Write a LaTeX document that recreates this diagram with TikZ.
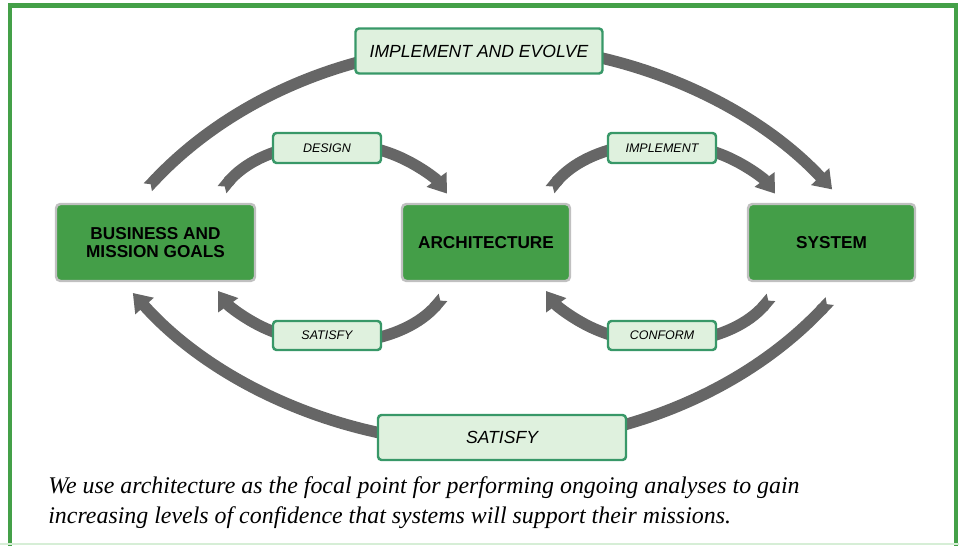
\documentclass[tikz,border=0pt]{standalone}
\usepackage{fontspec}
\setmainfont{Liberation Serif}
\setsansfont{Liberation Sans}
\usetikzlibrary{arrows.meta}

\definecolor{framegreen}{RGB}{68,160,72}
\definecolor{goalgreen}{RGB}{68,158,72}
\definecolor{goalrim}{RGB}{192,192,192}
\definecolor{tagrim}{RGB}{56,152,104}
\definecolor{tagfill}{RGB}{223,241,222}
\definecolor{flowgrey}{RGB}{102,102,102}
\definecolor{lightrule}{RGB}{214,238,214}

\begin{document}
\begin{tikzpicture}[x=0.02cm, y=0.02cm,
  flow/.style={draw=flowgrey, line width=6.5pt,
    {Triangle Cap[reversed,length=2.4pt]}-{Triangle[length=10pt,width=13.5pt]}},
  goal/.style={draw=goalrim, fill=goalgreen, line width=1.4pt, rounded corners=2.5pt,
    inner sep=0pt, align=center, font=\sffamily\bfseries\fontsize{9.8}{10.6}\selectfont},
  tag/.style={draw=tagrim, fill=tagfill, line width=1.4pt, rounded corners=2pt,
    inner sep=0pt, font=\sffamily\itshape}]

  \def\u{0.02cm};

  \useasboundingbox (0,0) rectangle (959,546);

  %frame
  \draw[framegreen, line width=2.3pt] (10,0) -- (10,540.5) -- (956,540.5) -- (956,0);
  \draw[lightrule, line width=1.1pt] (0,2) -- (959,2);

  %flows: start x/start y/start angle/end angle/x radius/y radius/name
  \foreach \sx/\sy/\a/\b/\rx/\ry/\name in {
      147.8/358.7/139.3/40.3/450/409/tEvolve,
      829.7/244.9/-40/-141.5/450/400/tSatBig,
      222.0/356.3/148.6/28.7/130/96.5/tDesign,
      550.0/356.3/148.6/28.7/130/96.5/tImpl,
      443.0/248.6/-32.2/-152.2/130/96.5/tSat,
      771.0/248.6/-32.2/-152.2/130/96.5/tConform}{
    \coordinate (\name) at (\sx,\sy);
    \draw[flow] (\name) arc[start angle=\a, end angle=\b, x radius=\rx, y radius=\ry];
  }

  %goal boxes
  \foreach \x/\w/\txt/\name in {
      155.5/199/{BUSINESS AND\\MISSION GOALS}/goals,
      486/168/ARCHITECTURE/arch,
      831.5/167/SYSTEM/sys}{
    \node[goal, minimum width=\w*\u, minimum height=77*\u] (\name) at (\x,303.5) {\txt};
  }

  %tags
  \foreach \x/\y/\w/\h/\fs/\txt/\name in {
      479/495/247/45/10/IMPLEMENT AND EVOLVE/evolve,
      327/398/108/30/7.1/DESIGN/design,
      662/398/108/30/7.1/IMPLEMENT/impl,
      327/210.5/108/29/7.1/SATISFY/sat,
      662/210.5/108/29/7.1/CONFORM/conform,
      502/108.5/248/45/10/SATISFY/satbig}{
    \node[tag, minimum width=\w*\u, minimum height=\h*\u,
      font=\sffamily\itshape\fontsize{\fs}{\fs}\selectfont] (\name) at (\x,\y) {\txt};
  }

  %caption
  \node[anchor=base west, inner sep=0pt, font=\itshape\fontsize{13.6}{17}\selectfont] (cap1) at (48,52)
    {We use architecture as the focal point for performing ongoing analyses to gain};
  \node[anchor=base west, inner sep=0pt, font=\itshape\fontsize{13.6}{17}\selectfont] (cap2) at (48,22)
    {increasing levels of confidence that systems will support their missions.};

\end{tikzpicture}
\end{document}
